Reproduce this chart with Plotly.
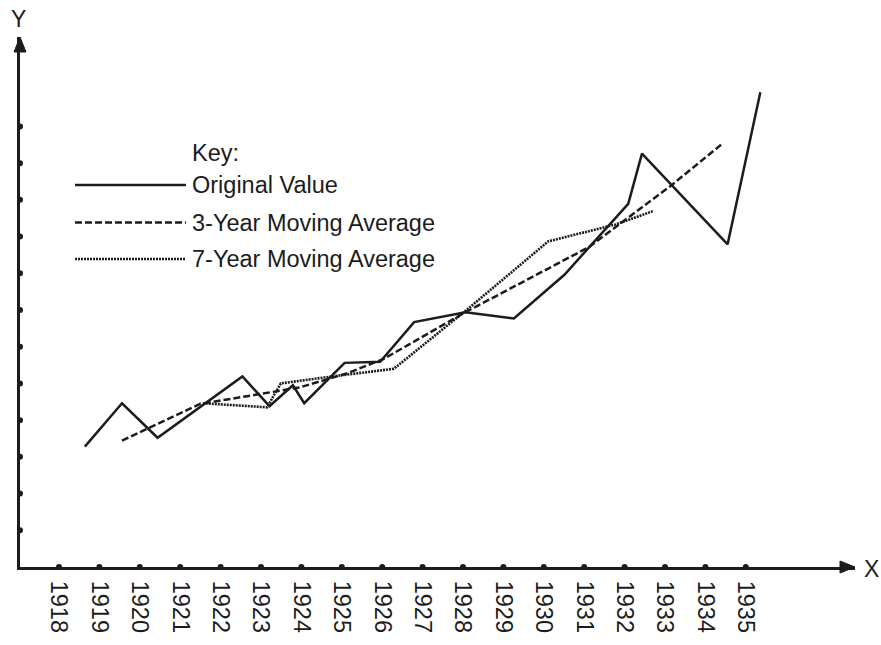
import plotly.graph_objects as go

# ---------------- data ----------------
tick_years = list(range(1918, 1936))
tick_labels = [str(y) for y in tick_years]
y_ticks = list(range(1, 13))

orig_years = [1918.64, 1919.56, 1920.44, 1922.54, 1923.21, 1923.79, 1924.07, 1925.07,
              1925.95, 1926.79, 1928.06, 1929.26, 1930.51, 1932.09, 1932.43, 1934.55, 1935.36]
orig_vals = [3.28, 4.46, 3.52, 5.19, 4.38, 4.95, 4.46, 5.56,
             5.59, 6.67, 6.94, 6.77, 7.96, 9.89, 11.26, 8.79, 12.93]

ma3_years = [1919.56, 1921.49, 1923.95, 1925.12, 1926.04, 1928.06, 1931.11, 1933.14, 1934.42]
ma3_vals = [3.44, 4.44, 4.89, 5.27, 5.67, 6.94, 8.71, 10.38, 11.53]

ma7_years = [1921.56, 1923.15, 1923.49, 1924.55, 1926.29, 1927.37, 1928.11, 1930.11, 1931.78, 1932.72]
ma7_vals = [4.46, 4.35, 5.00, 5.16, 5.40, 6.37, 7.02, 8.87, 9.33, 9.70]

legend_title = "Key:"
series_names = ["Original Value", "3-Year Moving Average", "7-Year Moving Average"]

# ---------------- layout geometry ----------------
W, H = 881, 645
ML, MR, MT, MB = 20, 26, 37, 71
PW = W - ML - MR
PH = H - MT - MB
X_MIN, X_MAX = 1917.035, 1937.703
Y_MIN, Y_MAX = 0, PH / 37.2

INK = "#1c1c1c"
FONT = "Liberation Sans, Arial, Helvetica, sans-serif"
DASH3 = "7px,3px"
DASH7 = "2px,1px"


def px(x):
    return (x - ML) / PW


def py(y):
    return (H - MB - y) / PH


fig = go.Figure()

fig.add_trace(go.Scatter(x=orig_years, y=orig_vals, mode="lines", name=series_names[0],
                         line=dict(color=INK, width=2.5), showlegend=False))
fig.add_trace(go.Scatter(x=ma3_years, y=ma3_vals, mode="lines", name=series_names[1],
                         line=dict(color=INK, width=2.5, dash=DASH3), showlegend=False))
fig.add_trace(go.Scatter(x=ma7_years, y=ma7_vals, mode="lines", name=series_names[2],
                         line=dict(color=INK, width=2.6, dash=DASH7), showlegend=False))

# tick dots on the axes
fig.add_trace(go.Scatter(x=tick_years, y=[Y_MIN] * len(tick_years), mode="markers",
                         marker=dict(color=INK, size=6), cliponaxis=False,
                         showlegend=False, hoverinfo="skip"))
fig.add_trace(go.Scatter(x=[X_MIN] * len(y_ticks), y=y_ticks, mode="markers",
                         marker=dict(color=INK, size=6), cliponaxis=False,
                         showlegend=False, hoverinfo="skip"))

shapes = []
annotations = []

# arrow heads
shapes.append(dict(type="path", xref="paper", yref="paper", xsizemode="pixel", ysizemode="pixel",
                   xanchor=1, yanchor=0, path="M 0 0 L -15 6 L -15 -6 Z",
                   fillcolor=INK, line=dict(color=INK, width=1)))
shapes.append(dict(type="path", xref="paper", yref="paper", xsizemode="pixel", ysizemode="pixel",
                   xanchor=0, yanchor=1, path="M 0 0 L -6 -15 L 6 -15 Z",
                   fillcolor=INK, line=dict(color=INK, width=1)))

# axis letters
annotations.append(dict(text="X", xref="paper", yref="paper", x=px(871), y=py(576),
                        xanchor="center", yanchor="middle",
                        showarrow=False, font=dict(size=23, color=INK, family=FONT)))
annotations.append(dict(text="Y", xref="paper", yref="paper", x=px(18), y=py(19),
                        xanchor="center", yanchor="middle",
                        showarrow=False, font=dict(size=23, color=INK, family=FONT)))

# manual key
annotations.append(dict(text=legend_title, xref="paper", yref="paper", x=px(190), y=py(155),
                        xanchor="left", yanchor="middle", showarrow=False,
                        font=dict(size=23.5, color=INK, family=FONT)))
row_y = [187, 225, 262]
dashes = ["solid", DASH3, DASH7]
for name, ry, dsh in zip(series_names, row_y, dashes):
    shapes.append(dict(type="line", xref="paper", yref="paper", x0=px(75), x1=px(186),
                       y0=py(ry), y1=py(ry), line=dict(color=INK, width=2.4, dash=dsh)))
    annotations.append(dict(text=name, xref="paper", yref="paper", x=px(190), y=py(ry),
                            xanchor="left", yanchor="middle", showarrow=False,
                            font=dict(size=23.5, color=INK, family=FONT)))

fig.update_layout(
    width=W, height=H,
    margin=dict(l=ML, r=MR, t=MT, b=MB),
    paper_bgcolor="white", plot_bgcolor="white",
    shapes=shapes, annotations=annotations,
    font=dict(family=FONT, color=INK),
    xaxis=dict(range=[X_MIN, X_MAX], showgrid=False, zeroline=False,
               showline=True, linecolor=INK, linewidth=3,
               tickmode="array", tickvals=tick_years, ticktext=tick_labels,
               tickangle=90, ticks="", tickfont=dict(size=23.5, color=INK, family=FONT),
               ticklabelstandoff=6),
    yaxis=dict(range=[Y_MIN, Y_MAX], showgrid=False, zeroline=False,
               showline=True, linecolor=INK, linewidth=3,
               showticklabels=False, ticks=""),
)

fig.write_html("out.html", config={"displayModeBar": False},
               post_script="document.body.style.margin='0';")
